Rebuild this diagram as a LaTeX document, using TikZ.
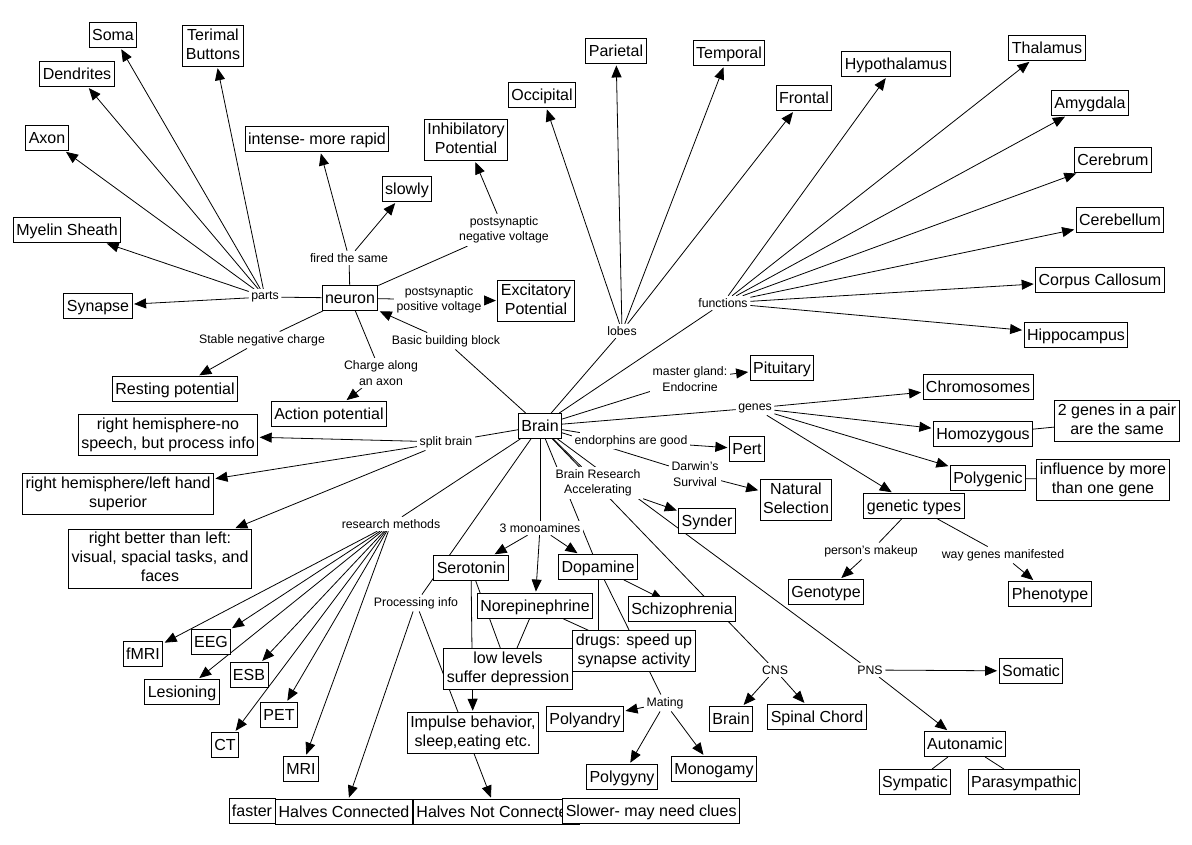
\documentclass[tikz,border=0pt]{standalone}
\usepackage{fontspec}
\setmainfont{Liberation Sans}
\usetikzlibrary{arrows.meta}
\pgfdeclarelayer{bg}
\pgfsetlayers{bg,main}
\newcommand{\bxfont}{\fontsize{16}{19}\selectfont}
\newcommand{\lbfont}{\fontsize{12.3}{15.5}\selectfont}
\newcommand{\bxstrut}{\rule[-4pt]{0pt}{19pt}}
\begin{document}
\begin{tikzpicture}[x=1pt,y=-1pt,
 bx/.style={draw, line width=0.9pt, fill=white, inner xsep=3pt, inner ysep=3pt, font=\bxfont, align=center, execute at begin node=\bxstrut, execute at end node=\bxstrut},
 lb/.style={fill=white, inner sep=2.5pt, font=\lbfont, align=center},
 ar/.style={line width=0.8pt, -{Triangle[length=12pt,width=10pt]}, shorten >=1.5pt},
 ln/.style={line width=0.8pt}]
\useasboundingbox (0,0) rectangle (1192,845);
\begin{pgfonlayer}{bg}
\fill[white] (0,0) rectangle (1192,845);
\end{pgfonlayer}
% boxes
\node[bx] (soma) at (113,35) {Soma};
\node[bx] (term) at (213,46) {Terimal\\Buttons};
\node[bx] (dend) at (77,74) {Dendrites};
\node[bx] (axon) at (47,138) {Axon};
\node[bx] (myel) at (67,230) {Myelin Sheath};
\node[bx] (syn) at (98,306) {Synapse};
\node[bx] (intense) at (317,139) {intense- more rapid};
\node[bx] (slowly) at (407,189) {slowly};
\node[bx] (inhib) at (466,140) {Inhibilatory\\Potential};
\node[bx] (occ) at (542,95) {Occipital};
\node[bx] (par) at (616,51) {Parietal};
\node[bx] (temp) at (729,53) {Temporal};
\node[bx] (front) at (804,98) {Frontal};
\node[bx] (hypo) at (896,64) {Hypothalamus};
\node[bx] (thal) at (1047,48) {Thalamus};
\node[bx] (amyg) at (1090,103) {Amygdala};
\node[bx] (cerebrum) at (1113,160) {Cerebrum};
\node[bx] (cerebellum) at (1120,220) {Cerebellum};
\node[bx] (corpus) at (1100,280) {Corpus Callosum};
\node[bx] (hippo) at (1076,335) {Hippocampus};
\node[bx] (neuron) at (350,298) {neuron};
\node[bx] (excit) at (536,301) {Excitatory\\Potential};
\node[bx] (rest) at (175,389) {Resting potential};
\node[bx] (action) at (329,414) {Action potential};
\node[bx] (rh1) at (168,435) {right hemisphere-no\\speech, but process info};
\node[bx] (rh2) at (118,494) {right hemisphere/left hand\\superior};
\node[bx] (rh3) at (160,559) {right better than left:\\visual, spacial tasks, and\\faces};
\node[bx] (brain) at (540,426) {Brain};
\node[bx] (pit) at (782,368) {Pituitary};
\node[bx] (chrom) at (978,387) {Chromosomes};
\node[bx] (homo) at (983,434) {Homozygous};
\node[bx] (twogenes) at (1117,421) {2 genes in a pair\\are the same};
\node[bx] (poly) at (988,478) {Polygenic};
\node[bx] (infl) at (1103,480) {influence by more\\than one gene};
\node[bx] (gtypes) at (914,506) {genetic types};
\node[bx] (pert) at (747,449) {Pert};
\node[bx] (natsel) at (796,500) {Natural\\Selection};
\node[bx] (synder) at (707,521) {Synder};
\node[bx] (sero) at (471,568) {Serotonin};
\node[bx] (dopa) at (598,567) {Dopamine};
\node[bx] (norep) at (535,606) {Norepinephrine};
\node[bx] (schiz) at (682,609) {Schizophrenia};
\node[bx] (drugs) at (634,651) {drugs: speed up\\synapse activity};
\node[bx] (low) at (508,669) {low levels\\suffer depression};
\node[bx] (impulse) at (473,733) {Impulse behavior,\\sleep,eating etc.};
\node[bx] (polyan) at (585,719) {Polyandry};
\node[bx] (polygy) at (622,777) {Polygyny};
\node[bx] (mono) at (714,769) {Monogamy};
\node[bx] (brain2) at (731,719) {Brain};
\node[bx] (spinal) at (817,717) {Spinal Chord};
\node[bx] (geno) at (826,592) {Genotype};
\node[bx] (pheno) at (1050,594) {Phenotype};
\node[bx] (somatic) at (1031,671) {Somatic};
\node[bx] (auto) at (965,744) {Autonamic};
\node[bx] (symp) at (915,782) {Sympatic};
\node[bx] (para) at (1024,782) {Parasympathic};
\node[bx] (fmri) at (143,654) {fMRI};
\node[bx] (eeg) at (211,642) {EEG};
\node[bx] (les) at (182,692) {Lesioning};
\node[bx] (esb) at (249,675) {ESB};
\node[bx] (pet) at (279,715) {PET};
\node[bx] (ct) at (225,745) {CT};
\node[bx] (mri) at (301,769) {MRI};
\node[bx] (faster) at (252,811) {faster};
\node[bx] (hc) at (344,812) {Halves Connected};
\node[bx, anchor=west] (hnc) at (413,812) {Halves Not Connected};
\node[bx, anchor=east] (slower) at (740,811) {Slower- may need clues};
% linking labels
\node[lb] (parts) at (265,297) {parts};
\node[lb] (fired) at (349,258) {fired the same};
\node[lb] (psneg) at (504,230) {postsynaptic\\negative voltage};
\node[lb] (pspos) at (439,300) {postsynaptic\\positive voltage};
\node[lb] (bbb) at (446,341) {Basic building block};
\node[lb] (stable) at (262,340) {Stable negative charge};
\node[lb] (charge) at (381,373) {Charge along\\an axon};
\node[lb] (split) at (446,442) {split brain};
\node[lb] (rm) at (391,524) {research methods};
\node[lb] (mono3) at (540,528) {3 monoamines};
\node[lb] (bra) at (598,483) {Brain Research\\Accelerating};
\node[lb] (endo) at (631,441) {endorphins are good};
\node[lb] (darwin) at (695,474) {Darwin's\\Survival};
\node[lb] (master) at (690,379) {master gland:\\Endocrine};
\node[lb] (genes) at (755,408) {genes};
\node[lb] (lobes) at (622,331) {lobes};
\node[lb] (func) at (723,303) {functions};
\node[lb] (pmake) at (871,551) {person's makeup};
\node[lb] (waygenes) at (1003,555) {way genes manifested};
\node[lb] (proc) at (416,603) {Processing info};
\node[lb] (mating) at (665,703) {Mating};
\node[lb] (cns) at (775,670) {CNS};
\node[lb] (pns) at (870,670) {PNS};
% connectors
\begin{pgfonlayer}{bg}
\draw[ln] (neuron) -- (parts);
\foreach \t in {syn,myel,axon,dend,soma,term} \draw[ar] (parts) -- (\t);
\draw[ln] (neuron) -- (fired);
\draw[ar] (fired) -- (intense);
\draw[ar] (fired) -- (slowly);
\draw[ln] (neuron) -- (psneg);
\draw[ar] (psneg) -- (inhib);
\draw[ln] (neuron) -- (pspos);
\draw[ar] (pspos) -- (excit);
\draw[ln] (neuron) -- (stable);
\draw[ar] (stable) -- (rest);
\draw[ln] (neuron) -- (charge);
\draw[ar] (charge) -- (action);
\draw[ln] (brain) -- (bbb);
\draw[ar] (bbb) -- (neuron);
\draw[ln] (brain) -- (lobes);
\foreach \t in {occ,par,temp,front} \draw[ar] (lobes) -- (\t);
\draw[ln] (brain) -- (func);
\foreach \t in {hypo,thal,amyg,cerebrum,cerebellum,corpus,hippo} \draw[ar] (func) -- (\t);
\draw[ln] (brain) -- (master);
\draw[ar] (master) -- (pit);
\draw[ln] (brain) -- (genes);
\foreach \t in {chrom,homo,poly,gtypes} \draw[ar] (genes) -- (\t);
\draw[ln] (homo) -- (twogenes);
\draw[ln] (poly) -- (infl);
\draw[ln] (gtypes) -- (pmake);
\draw[ar] (pmake) -- (geno);
\draw[ln] (gtypes) -- (waygenes);
\draw[ar] (waygenes) -- (pheno);
\draw[ln] (brain) -- (endo);
\draw[ar] (endo) -- (pert);
\draw[ln] (brain) -- (darwin);
\draw[ar] (darwin) -- (natsel);
\draw[ln] (brain) -- (bra);
\draw[ar] (bra) -- (synder);
\draw[ln] (brain) -- (dopa);
\draw[ln] (brain) -- (cns);
\draw[ln] (brain) -- (pns);
\draw[ar] (cns) -- (brain2);
\draw[ar] (cns) -- (spinal);
\draw[ar] (pns) -- (somatic);
\draw[ar] (pns) -- (auto);
\draw[ln] (auto) -- (symp);
\draw[ln] (auto) -- (para);
\draw[ln] (brain) -- (split);
\foreach \t in {rh1,rh2,rh3} \draw[ar] (split) -- (\t);
\draw[ln] (brain) -- (rm);
\foreach \t in {fmri,eeg,les,esb,ct,pet,mri} \draw[ar] (rm) -- (\t);
\draw[ln] (brain) -- (proc);
\draw[ar] (proc) -- (hc);
\draw[ar] (proc) -- (hnc);
\draw[ln] (brain) -- (mono3);
\draw[ar] (mono3) -- (sero);
\draw[ar] (mono3) -- (norep);
\draw[ar] (mono3) -- (dopa);
\draw[ar] (sero) -- (impulse);
\draw[ln] (sero) -- (low);
\draw[ln] (norep) -- (low);
\draw[ln] (norep) -- (drugs);
\draw[ln] (dopa.south) -- (dopa.south |- drugs.north);
\draw[ar, shorten >=-8pt] (dopa) -- (schiz);
\draw[ln] (dopa) -- (mating);
\draw[ar] (mating) -- (polyan);
\draw[ar] (mating) -- (polygy);
\draw[ar] (mating) -- (mono);
\end{pgfonlayer}
\end{tikzpicture}
\end{document}
